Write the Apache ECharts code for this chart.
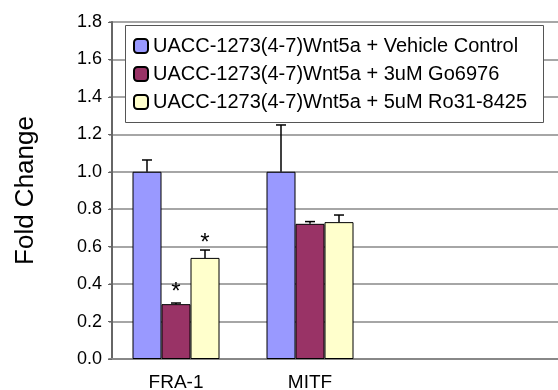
<!DOCTYPE html>
<html><head><meta charset="utf-8">
<script src="https://cdn.jsdelivr.net/npm/echarts@6/dist/echarts.min.js"></script>
<style>html,body{margin:0;padding:0;background:#fff}#c{width:558px;height:390px}</style>
</head><body><div id="c"></div>
<script>
var categories = ['FRA-1', 'MITF', '', ''];
var seriesNames = [
  'UACC-1273(4-7)Wnt5a + Vehicle Control',
  'UACC-1273(4-7)Wnt5a + 3uM Go6976',
  'UACC-1273(4-7)Wnt5a + 5uM Ro31-8425'
];
var vehicle = [1.0, 1.0, null, null];
var go6976 = [0.293, 0.722, null, null];
var ro318425 = [0.54, 0.731, null, null];
var vehicleErr = [0.063, 0.25, null, null];
var go6976Err = [0.006, 0.012, null, null];
var ro318425Err = [0.042, 0.038, null, null];
var go6976Sig = ['*', '', '', ''];
var ro318425Sig = ['*', '', '', ''];
var yTicks = [0, 0.2, 0.4, 0.6, 0.8, 1.0, 1.2, 1.4, 1.6, 1.8];

var colors = ['#9999FF', '#993366', '#FFFFCC'];
var values = [vehicle, go6976, ro318425];
var errs = [vehicleErr, go6976Err, ro318425Err];
var sigs = [null, go6976Sig, ro318425Sig];
var BW = 29;

var series = [];
values.forEach(function (vals, si) {
  series.push({
    name: seriesNames[si],
    type: 'bar',
    barWidth: BW,
    barGap: '0%',
    itemStyle: { color: colors[si], borderColor: '#000', borderWidth: 1 },
    data: vals.map(function (v, i) {
      var d = { value: v };
      if (sigs[si] && sigs[si][i]) {
        d.label = { show: true, position: 'top', formatter: sigs[si][i], distance: si === 2 ? 3 : 0,
          fontSize: 24, color: '#000', fontFamily: 'Liberation Sans' };
      }
      return d;
    }),
    z: 2
  });
});
values.forEach(function (vals, si) {
  series.push({
    type: 'custom',
    name: 'err' + si,
    data: vals.map(function (v, i) { return v == null ? [i, null, null] : [i, v, v + errs[si][i]]; }),
    renderItem: function (params, api) {
      if (api.value(1) == null || isNaN(api.value(1))) return;
      var off = (si - 1) * BW;
      var p0 = api.coord([api.value(0), api.value(1)]);
      var p1 = api.coord([api.value(0), api.value(2)]);
      var x = p0[0] + off;
      return {
        type: 'group',
        children: [
          { type: 'line', shape: { x1: x, y1: p0[1], x2: x, y2: p1[1] }, style: { stroke: '#000', lineWidth: 1.5 } },
          { type: 'line', shape: { x1: x - 5, y1: p1[1], x2: x + 5, y2: p1[1] }, style: { stroke: '#000', lineWidth: 1.5 } }
        ]
      };
    },
    z: 3,
    silent: true
  });
});

var chart = echarts.init(document.getElementById('c'), null, { renderer: 'canvas' });
chart.setOption({
  animation: false,
  backgroundColor: '#fff',
  textStyle: { fontFamily: 'Liberation Sans' },
  grid: { left: 109, top: 22, right: -87, bottom: 31, containLabel: false, outerBoundsMode: 'none' },
  graphic: [{
    type: 'rect', left: 125, top: 25, z: 3, silent: true,
    shape: { width: 418, height: 97 },
    style: { fill: '#fff', stroke: '#555', lineWidth: 1 }
  }],
  legend: {
    data: seriesNames,
    orient: 'vertical',
    left: 125, top: 25,
    padding: [11, 8, 13, 8],
    itemGap: 8,
    itemWidth: 14, itemHeight: 14,
    z: 5,
    textStyle: { fontSize: 20, color: '#000', fontFamily: 'Liberation Sans' }
  },
  xAxis: {
    type: 'category',
    data: categories,
    axisLine: { lineStyle: { color: '#888', width: 2 } },
    axisTick: { show: false },
    axisLabel: { fontSize: 19, color: '#000', margin: 14 },
    splitLine: { show: false }
  },
  yAxis: {
    type: 'value',
    min: 0, max: 1.8, interval: 0.2,
    offset: -3,
    name: 'Fold Change',
    nameLocation: 'middle',
    nameGap: 73,
    nameTextStyle: { fontSize: 26, color: '#000' },
    axisLine: { show: true, lineStyle: { color: '#666', width: 2 } },
    axisTick: { show: true, length: 4, lineStyle: { color: '#666' } },
    axisLabel: { fontSize: 18, color: '#000', margin: 10, formatter: function (v) { return v.toFixed(1); } },
    splitLine: { show: true, lineStyle: { color: '#888', width: 1.5 } }
  },
  series: series
});
</script></body></html>
